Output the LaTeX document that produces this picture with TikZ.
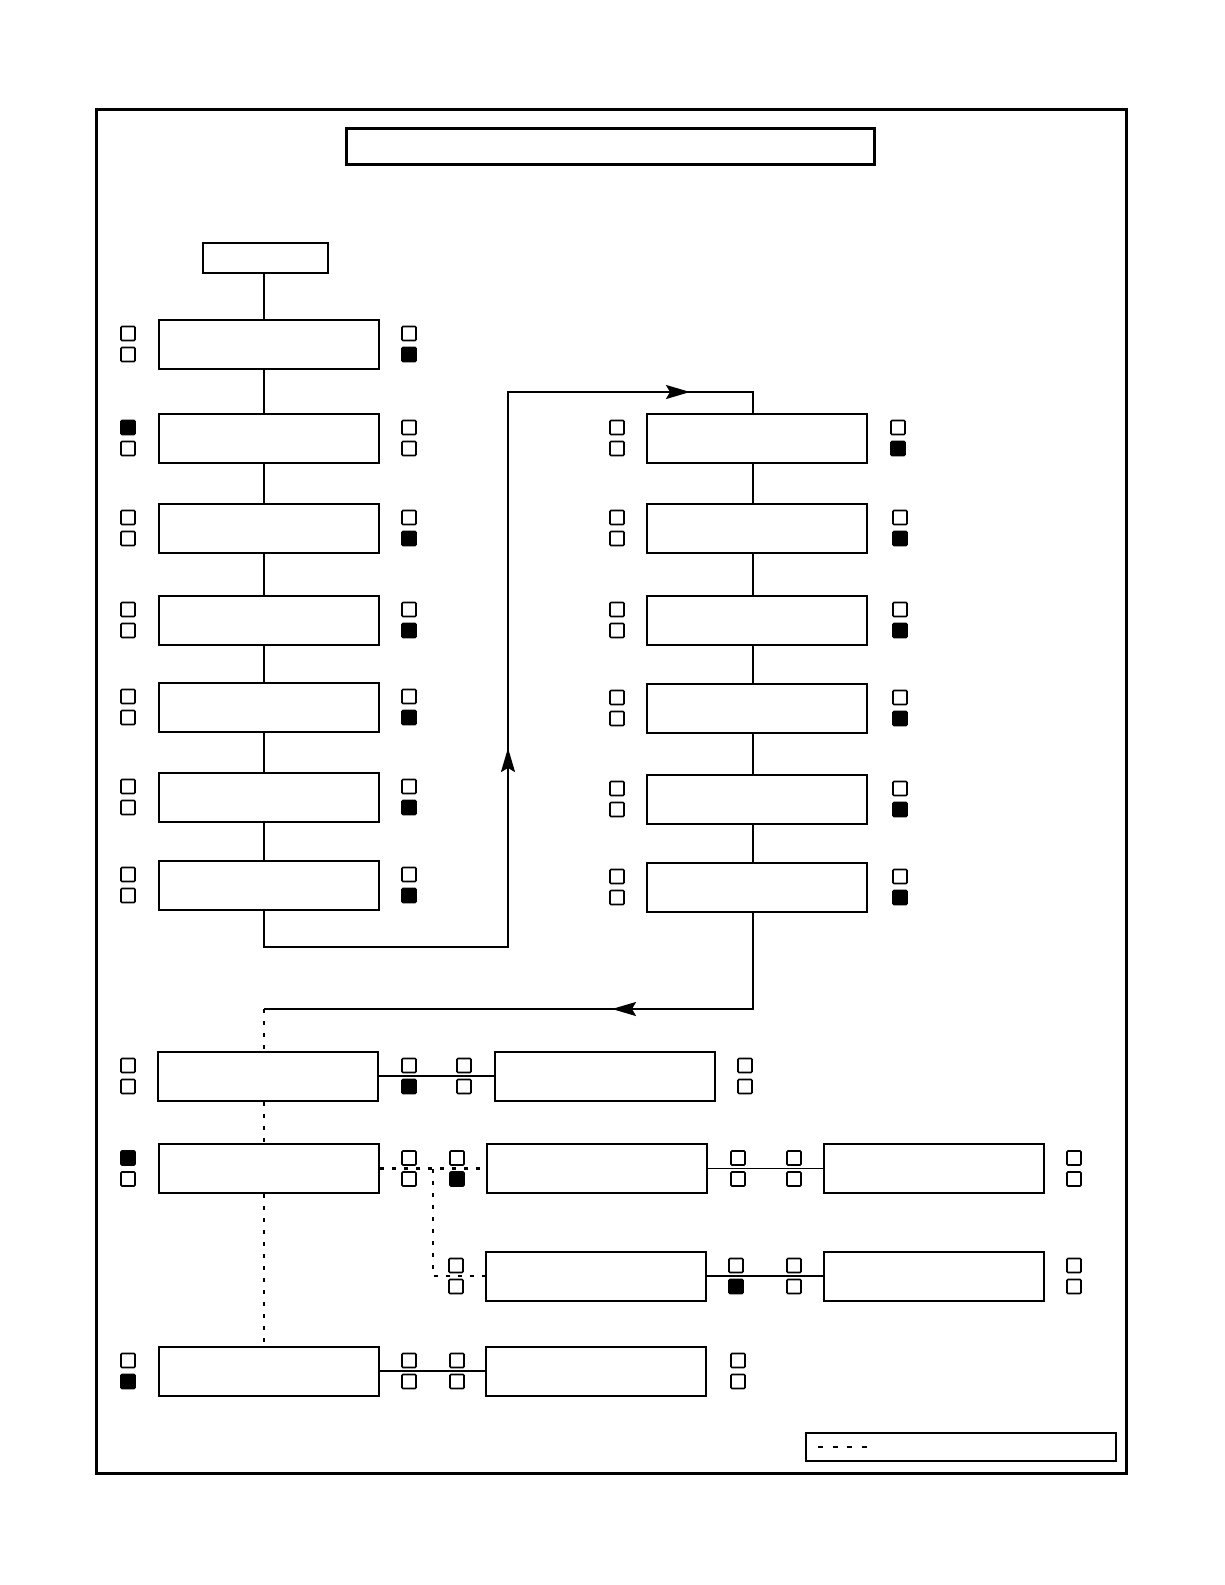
\documentclass[tikz,border=0pt]{standalone}
\usetikzlibrary{arrows.meta}
\tikzset{
  bx/.style={draw,line width=2pt,minimum width=220pt,minimum height=49pt,inner sep=0pt},
  sq/.style={draw,line width=1.7pt,minimum size=14pt,inner sep=0pt,rounded corners=1pt},
  sqf/.style={sq,fill=black},
  conn/.style={line width=2pt},
  dotl/.style={line width=2.8pt,dash pattern=on 4pt off 8pt},
  tip/.style={-{Stealth[length=24pt,width=14pt,inset=4pt]}}
}
\newcommand\sqpair[5]{%
  \node[#4] (#1t) at (#2,#3-10.5) {};
  \node[#5] (#1b) at (#2,#3+10.5) {};}
\begin{document}
\begin{tikzpicture}[x=1pt,y=-1pt]
\useasboundingbox (0,0) rectangle (1225,1585);
% frame and title
\node[draw,line width=3pt,minimum width=1030pt,minimum height=1364pt,inner sep=0pt] (frame) at (611,791) {};
\node[draw,line width=3pt,minimum width=528pt,minimum height=36pt,inner sep=0pt] (title) at (610,146) {};
\node[draw,line width=2pt,minimum width=125pt,minimum height=30pt,inner sep=0pt] (S) at (265.5,258) {};
% helper coordinates
\coordinate (xL) at (264,0);
\coordinate (xR) at (753,0);
% left column
\node[bx] (L1) at (268.5,344) {};
\node[bx] (L2) at (268.5,438) {};
\node[bx] (L3) at (268.5,528) {};
\node[bx] (L4) at (268.5,620) {};
\node[bx] (L5) at (268.5,707) {};
\node[bx] (L6) at (268.5,797) {};
\node[bx] (L7) at (268.5,885) {};
% right column
\node[bx] (R1) at (757,438) {};
\node[bx] (R2) at (757,528) {};
\node[bx] (R3) at (757,620) {};
\node[bx] (R4) at (757,708) {};
\node[bx] (R5) at (757,799) {};
\node[bx] (R6) at (757,887) {};
% lower rows
\node[bx] (A) at (268,1076) {};
\node[bx] (A2) at (604.5,1076) {};
\node[bx] (B) at (269,1168.5) {};
\node[bx] (B2) at (597,1168.5) {};
\node[bx] (B3) at (934,1168.5) {};
\node[bx] (C2) at (596,1276) {};
\node[bx] (C3) at (934,1276) {};
\node[bx] (D) at (268.5,1371) {};
\node[bx] (D2) at (596,1371) {};
% legend
\node[draw,line width=2pt,minimum width=310pt,minimum height=28pt,inner sep=0pt] (Lg) at (961,1447) {};
\coordinate (lg1) at (818,1447);
\coordinate (lg2) at (872,1447);
\draw[line width=2.8pt,dash pattern=on 5pt off 9.5pt] (lg1) -- (lg2);
% connectors left column
\draw[conn] (S.south -| xL) -- (L1.north -| xL);
\draw[conn] (L1.south -| xL) -- (L2.north -| xL);
\draw[conn] (L2.south -| xL) -- (L3.north -| xL);
\draw[conn] (L3.south -| xL) -- (L4.north -| xL);
\draw[conn] (L4.south -| xL) -- (L5.north -| xL);
\draw[conn] (L5.south -| xL) -- (L6.north -| xL);
\draw[conn] (L6.south -| xL) -- (L7.north -| xL);
\coordinate (c1) at (264,947);
\coordinate (c2) at (508,947);
\coordinate (c3) at (508,392);
\coordinate (c4) at (753,392);
\coordinate (a1) at (508,748);
\coordinate (a2) at (690,392);
\draw[conn] (L7.south -| xL) -- (c1) -- (c2) -- (c3) -- (c4) -- (R1.north -| xR);
\draw[conn,tip] (c2) -- (a1);
\draw[conn,tip] (c3) -- (a2);
% right column
\draw[conn] (R1.south -| xR) -- (R2.north -| xR);
\draw[conn] (R2.south -| xR) -- (R3.north -| xR);
\draw[conn] (R3.south -| xR) -- (R4.north -| xR);
\draw[conn] (R4.south -| xR) -- (R5.north -| xR);
\draw[conn] (R5.south -| xR) -- (R6.north -| xR);
\coordinate (d1) at (753,1009);
\coordinate (d2) at (264,1009);
\coordinate (a3) at (612,1009);
\draw[conn] (R6.south -| xR) -- (d1) -- (d2);
\draw[conn,tip] (d1) -- (a3);
% dotted trunk
\draw[dotl] (d2) -- (A.north -| xL);
\draw[dotl] (A.south -| xL) -- (B.north -| xL);
\draw[dotl] (B.south -| xL) -- (D.north -| xL);
% horizontal links
\draw[conn] (A.east) -- (A2.west);
\coordinate (j) at (433,0);
\draw[dotl] (B.east) -- (B2.west);
\draw[dotl] (B.east -| j) -- (C2.west -| j) -- (C2.west);
\draw[line width=1pt] (B2.east) -- (B3.west);
\draw[conn] (C2.east) -- (C3.west);
\draw[conn] (D.east) -- (D2.west);
% squares left column
\sqpair{l1a}{128}{344}{sq}{sq}   \sqpair{l1b}{409}{344}{sq}{sqf}
\sqpair{l2a}{128}{438}{sqf}{sq}  \sqpair{l2b}{409}{438}{sq}{sq}
\sqpair{l3a}{128}{528}{sq}{sq}   \sqpair{l3b}{409}{528}{sq}{sqf}
\sqpair{l4a}{128}{620}{sq}{sq}   \sqpair{l4b}{409}{620}{sq}{sqf}
\sqpair{l5a}{128}{707}{sq}{sq}   \sqpair{l5b}{409}{707}{sq}{sqf}
\sqpair{l6a}{128}{797}{sq}{sq}   \sqpair{l6b}{409}{797}{sq}{sqf}
\sqpair{l7a}{128}{885}{sq}{sq}   \sqpair{l7b}{409}{885}{sq}{sqf}
% squares right column
\sqpair{r1a}{617}{438}{sq}{sq}   \sqpair{r1b}{898}{438}{sq}{sqf}
\sqpair{r2a}{617}{528}{sq}{sq}   \sqpair{r2b}{900}{528}{sq}{sqf}
\sqpair{r3a}{617}{620}{sq}{sq}   \sqpair{r3b}{900}{620}{sq}{sqf}
\sqpair{r4a}{617}{708}{sq}{sq}   \sqpair{r4b}{900}{708}{sq}{sqf}
\sqpair{r5a}{617}{799}{sq}{sq}   \sqpair{r5b}{900}{799}{sq}{sqf}
\sqpair{r6a}{617}{887}{sq}{sq}   \sqpair{r6b}{900}{887}{sq}{sqf}
% row A
\sqpair{aa}{128}{1076}{sq}{sq} \sqpair{ab}{409}{1076}{sq}{sqf}
\sqpair{ac}{464}{1076}{sq}{sq} \sqpair{ad}{745}{1076}{sq}{sq}
% row B
\sqpair{ba}{128}{1168.5}{sqf}{sq} \sqpair{bb}{409}{1168.5}{sq}{sq}
\sqpair{bc}{457}{1168.5}{sq}{sqf} \sqpair{bd}{738}{1168.5}{sq}{sq}
\sqpair{be}{794}{1168.5}{sq}{sq}  \sqpair{bf}{1074}{1168.5}{sq}{sq}
% row C
\sqpair{ca}{456}{1276}{sq}{sq}  \sqpair{cb}{736}{1276}{sq}{sqf}
\sqpair{cc}{794}{1276}{sq}{sq}  \sqpair{cd}{1074}{1276}{sq}{sq}
% row D
\sqpair{da}{128}{1371}{sq}{sqf} \sqpair{db}{409}{1371}{sq}{sq}
\sqpair{dc}{457}{1371}{sq}{sq}  \sqpair{dd}{738}{1371}{sq}{sq}
\end{tikzpicture}
\end{document}
